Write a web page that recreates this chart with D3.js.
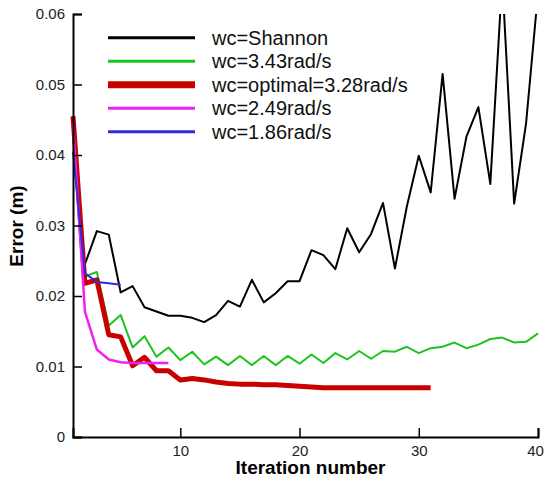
<!DOCTYPE html>
<html>
<head>
<meta charset="utf-8">
<script src="https://cdn.jsdelivr.net/npm/d3@7"></script>
<style>
  body { margin: 0; background: #fff; }
  text { font-family: "Liberation Sans", Arial, sans-serif; }
</style>
</head>
<body>
<div id="chart"></div>
<script>
// values, one per iteration starting at `start`
const seriesNames = ['wc=Shannon', 'wc=3.43rad/s', 'wc=optimal=3.28rad/s', 'wc=2.49rad/s', 'wc=1.86rad/s'];
const seriesStart = [2, 1, 1, 1, 1];
const shannon = [0.0245, 0.0292, 0.0287, 0.0205, 0.0214, 0.0184, 0.0178, 0.0172, 0.0172, 0.0169,
  0.0163, 0.0173, 0.0193, 0.0185, 0.0223, 0.0191, 0.0204, 0.0221, 0.0221, 0.0265,
  0.0258, 0.0238, 0.0296, 0.0262, 0.0288, 0.0332, 0.0239, 0.0327, 0.0399, 0.0347,
  0.0515, 0.0338, 0.0426, 0.0468, 0.0359, 0.065, 0.0331, 0.0445, 0.063];
const wc343 = [0.0455, 0.0228, 0.0234, 0.0158, 0.0173, 0.0127, 0.0143, 0.0114, 0.0127, 0.0109,
  0.0121, 0.0103, 0.0114, 0.0102, 0.0115, 0.0102, 0.0115, 0.0102, 0.0115, 0.0104,
  0.0117, 0.0105, 0.0119, 0.0110, 0.0122, 0.0111, 0.0122, 0.0121, 0.0128, 0.0119,
  0.0126, 0.0128, 0.0134, 0.0126, 0.0131, 0.0139, 0.0141, 0.0134, 0.0135, 0.0147];
const optimal = [0.0455, 0.0218, 0.0223, 0.0145, 0.0142, 0.0101, 0.0113, 0.0094, 0.0094, 0.0081,
  0.0083, 0.0081, 0.0078, 0.0076, 0.0075, 0.0075, 0.0074, 0.0074, 0.0073, 0.0072,
  0.0071, 0.0070, 0.0070, 0.0070, 0.0070, 0.0070, 0.0070, 0.0070, 0.0070, 0.0070, 0.0070];
const wc249 = [0.0445, 0.0178, 0.0124, 0.0110, 0.0106, 0.0105, 0.0105, 0.0105, 0.0105];
const wc186 = [0.0405, 0.0232, 0.0220, 0.0218, 0.0216];

const xTicksMajor = [10, 20, 30, 40];
const yTicksMajor = [0, 0.01, 0.02, 0.03, 0.04, 0.05, 0.06];

const colors = ['#000000', '#1ec41e', '#c80000', '#f020f0', '#2c2ce0'];
const widths = [2, 2, 5, 2.5, 2];
const legendWidths = [3, 3, 7, 3, 3];

const margin = {top: 14, right: 7, bottom: 41, left: 73};
const width = 545 - margin.left - margin.right;
const height = 478 - margin.top - margin.bottom;

const series = [shannon, wc343, optimal, wc249, wc186].map((vals, k) => ({
  name: seriesNames[k],
  color: colors[k],
  width: widths[k],
  points: vals.map((v, i) => ({x: seriesStart[k] + i, y: v}))
}));

const x = d3.scaleLinear().domain([1, 40]).range([0, width]);
const y = d3.scaleLinear().domain([0, 0.06]).range([height, 0]);

const svg = d3.select('#chart').append('svg')
    .attr('width', 545)
    .attr('height', 478);

const g = svg.append('g')
    .attr('transform', `translate(${margin.left},${margin.top})`);

svg.append('defs').append('clipPath').attr('id', 'plot-clip')
  .append('rect')
    .attr('x', -10).attr('y', 0)
    .attr('width', width + 20).attr('height', height + 10);

const line = d3.line()
    .x(d => x(d.x))
    .y(d => y(d.y));

g.append('g')
    .attr('clip-path', 'url(#plot-clip)')
  .selectAll('path')
  .data(series)
  .join('path')
    .attr('fill', 'none')
    .attr('stroke', d => d.color)
    .attr('stroke-width', d => d.width)
    .attr('stroke-linejoin', 'round')
    .attr('d', d => line(d.points));

// axes: ticks point inward, like the original plot
const xAxis = g.append('g').attr('transform', `translate(0,${height})`);
xAxis.call(d3.axisBottom(x).tickValues(d3.range(2, 41, 2)).tickSize(-5).tickFormat(''));
xAxis.call(d3.axisBottom(x).tickValues(xTicksMajor).tickSize(-9).tickPadding(8).tickFormat(d3.format('d')));
// last label sits right at the window edge, nudge it in
xAxis.selectAll('.tick text').filter(d => d === 40).attr('dx', -3);

const yAxis = g.append('g');
yAxis.call(d3.axisLeft(y).tickValues(d3.range(0, 0.0601, 0.002)).tickSize(-5).tickFormat(''));
yAxis.call(d3.axisLeft(y).tickValues(yTicksMajor).tickSize(-9).tickPadding(8)
    .tickFormat(d => d === 0 ? '0' : d3.format('.2f')(d)));

g.selectAll('.domain').attr('stroke', '#000').attr('stroke-width', 2);
g.selectAll('.tick line').attr('stroke', '#000').attr('stroke-width', 1.5);
g.selectAll('.tick text')
    .attr('font-size', 15)
    .attr('font-family', '"Liberation Sans", Arial, sans-serif')
    .attr('fill', '#222');

g.append('text')
    .attr('x', width / 2 + 5)
    .attr('y', height + 37)
    .attr('text-anchor', 'middle')
    .attr('font-size', 19)
    .attr('font-weight', 'bold')
    .text('Iteration number');

g.append('text')
    .attr('transform', `translate(${23 - margin.left},${226 - margin.top}) rotate(-90)`)
    .attr('text-anchor', 'middle')
    .attr('font-size', 19)
    .attr('font-weight', 'bold')
    .text('Error (m)');

const legend = svg.append('g')
  .selectAll('g')
  .data(series)
  .join('g')
    .attr('transform', (d, i) => `translate(108,${37.7 + i * 23.5})`);

legend.append('line')
    .attr('x2', 87)
    .attr('stroke', d => d.color)
    .attr('stroke-width', (d, i) => legendWidths[i]);

legend.append('text')
    .attr('x', 104)
    .attr('y', 7)
    .attr('font-size', 20)
    .attr('fill', '#111')
    .text(d => d.name);
</script>
</body>
</html>
